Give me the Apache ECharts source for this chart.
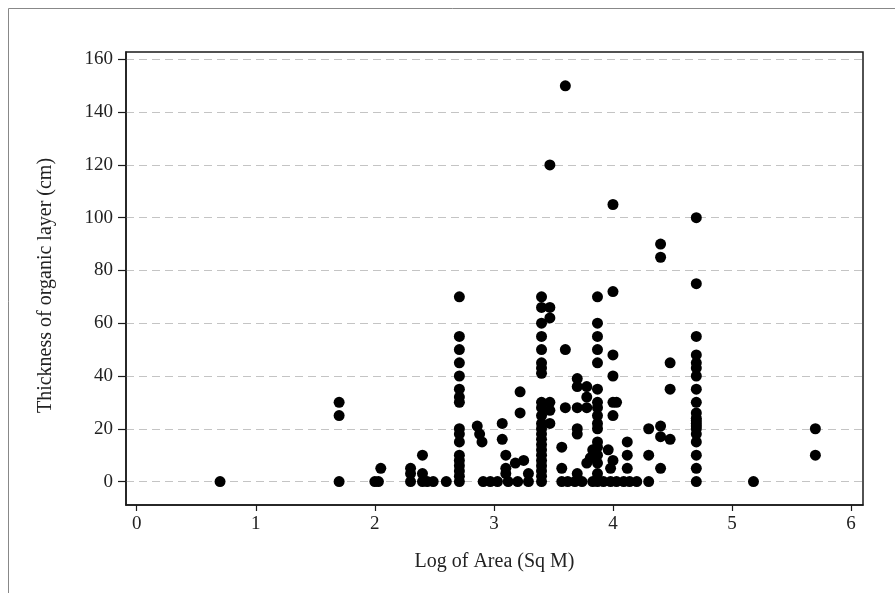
<!DOCTYPE html>
<html>
<head>
<meta charset="utf-8">
<script src="https://cdn.jsdelivr.net/npm/echarts@6/dist/echarts.min.js"></script>
<style>
  html, body { margin: 0; padding: 0; background: #fff; }
  #chart { width: 895px; height: 593px; }
</style>
</head>
<body>
<div id="chart"></div>
<script>
// Log of pond area (sq m) and organic layer thickness (cm), one entry per site,
// listed stack by stack from left to right.
const logArea = [
  0.70,
  1.70, 1.70, 1.70,
  2.00, 2.03, 2.05,
  2.30, 2.30, 2.30,
  2.40, 2.40, 2.40, 2.44,
  2.49, 2.60,
  2.71, 2.71, 2.71, 2.71, 2.71, 2.71, 2.71, 2.71, 2.71, 2.71, 2.71, 2.71, 2.71, 2.71, 2.71, 2.71, 2.71,
  2.86, 2.88, 2.90,
  2.91, 2.97,
  3.03,
  3.07, 3.07,
  3.10, 3.10, 3.10,
  3.12, 3.18, 3.20,
  3.22, 3.22, 3.25,
  3.29, 3.29,
  3.40, 3.40, 3.40, 3.40, 3.40, 3.40, 3.40, 3.40, 3.40, 3.40, 3.40, 3.40, 3.40, 3.40, 3.40, 3.40, 3.40, 3.40, 3.40, 3.40, 3.40, 3.40, 3.40,
  3.47, 3.47, 3.47, 3.47, 3.47, 3.47,
  3.57, 3.57, 3.57,
  3.60, 3.60, 3.60,
  3.62, 3.68,
  3.70, 3.70, 3.70, 3.70, 3.70, 3.70,
  3.74,
  3.78, 3.78, 3.78, 3.78,
  3.81, 3.83, 3.83,
  3.87, 3.87, 3.87, 3.87, 3.87, 3.87, 3.87, 3.87, 3.87, 3.87, 3.87, 3.87, 3.87, 3.87, 3.87, 3.87, 3.87,
  3.92, 3.96, 3.98, 3.98,
  4.00, 4.00, 4.00, 4.00, 4.00, 4.00, 4.00,
  4.03, 4.03,
  4.09,
  4.12, 4.12, 4.12,
  4.14, 4.20,
  4.30, 4.30, 4.30,
  4.40, 4.40, 4.40, 4.40, 4.40,
  4.48, 4.48, 4.48,
  4.70, 4.70, 4.70, 4.70, 4.70, 4.70, 4.70, 4.70, 4.70, 4.70, 4.70, 4.70, 4.70, 4.70, 4.70, 4.70, 4.70, 4.70, 4.70, 4.70,
  5.18,
  5.70, 5.70
];

const thicknessCm = [
  0,
  0, 25, 30,
  0, 0, 5,
  0, 3, 5,
  0, 3, 10, 0,
  0, 0,
  0, 2, 4, 6, 8, 10, 15, 18, 20, 30, 32, 35, 40, 45, 50, 55, 70,
  21, 18, 15,
  0, 0,
  0,
  22, 16,
  3, 5, 10,
  0, 7, 0,
  34, 26, 8,
  0, 3,
  0, 2, 4, 6, 8, 10, 12, 14, 16, 18, 20, 22, 25, 28, 30, 41, 43, 45, 50, 55, 60, 66, 70,
  120, 66, 62, 30, 27, 22,
  0, 5, 13,
  150, 50, 28,
  0, 0,
  39, 36, 28, 20, 18, 3,
  0,
  36, 32, 28, 7,
  9, 0, 12,
  70, 60, 55, 50, 45, 35, 30, 28, 25, 22, 20, 15, 13, 10, 7, 3, 0,
  0, 12, 0, 5,
  105, 72, 48, 40, 30, 25, 8,
  30, 0,
  0,
  15, 10, 5,
  0, 0,
  20, 10, 0,
  90, 85, 21, 17, 5,
  45, 35, 16,
  100, 75, 55, 48, 45, 43, 40, 35, 30, 26, 24, 23, 22, 21, 20, 18, 15, 10, 5, 0,
  0,
  20, 10
];

// Axis tick values
const xTicks = [0, 1, 2, 3, 4, 5, 6];
const yTicks = [0, 20, 40, 60, 80, 100, 120, 140, 160];

const points = logArea.map((x, i) => [x, thicknessCm[i]]);

const serif = '"Liberation Serif", "DejaVu Serif", serif';
const textColor = '#222';

const chart = echarts.init(document.getElementById('chart'), null, { renderer: 'canvas' });

chart.setOption({
  backgroundColor: '#fff',
  animation: false,
  graphic: [{
    type: 'rect',
    shape: { x: 8.5, y: 8.5, width: 1000, height: 1000 },
    style: { fill: 'none', stroke: '#888', lineWidth: 1 },
    silent: true,
    z: -10
  }],
  grid: {
    left: 126, top: 52, right: 32, bottom: 88,
    show: true,
    borderColor: '#1a1a1a',
    borderWidth: 1.5,
    backgroundColor: '#fff'
  },
  xAxis: {
    type: 'value',
    min: -0.09,
    max: 6.1,
    name: 'Log of Area (Sq M)',
    nameLocation: 'middle',
    nameGap: 47,
    nameTextStyle: { fontFamily: serif, fontSize: 20, color: textColor },
    axisLine: { show: true, onZero: false, lineStyle: { color: '#1a1a1a', width: 1.5 } },
    axisTick: { show: true, customValues: xTicks, length: 6, lineStyle: { color: '#1a1a1a', width: 1.2 } },
    axisLabel: { customValues: xTicks, fontFamily: serif, fontSize: 19, color: textColor, margin: 10 },
    splitLine: { show: false }
  },
  yAxis: {
    type: 'value',
    min: -8.9,
    max: 162.8,
    name: 'Thickness of organic layer (cm)',
    nameLocation: 'middle',
    nameGap: 70,
    nameTextStyle: { fontFamily: serif, fontSize: 20, color: textColor, padding: [0, 14, 0, 0] },
    axisLine: { show: true, onZero: false, lineStyle: { color: '#1a1a1a', width: 1.5 } },
    axisTick: { show: true, customValues: yTicks, length: 8, lineStyle: { color: '#1a1a1a', width: 1.2 } },
    axisLabel: { customValues: yTicks, fontFamily: serif, fontSize: 19, color: textColor, margin: 13 },
    splitLine: { show: true, lineStyle: { color: '#c4c4c4', type: [8, 5], width: 1.2 } }
  },
  series: [{
    type: 'scatter',
    data: points,
    symbol: 'circle',
    symbolSize: 11,
    itemStyle: { color: '#000', opacity: 1 },
    z: 3
  }]
});
</script>
</body>
</html>
